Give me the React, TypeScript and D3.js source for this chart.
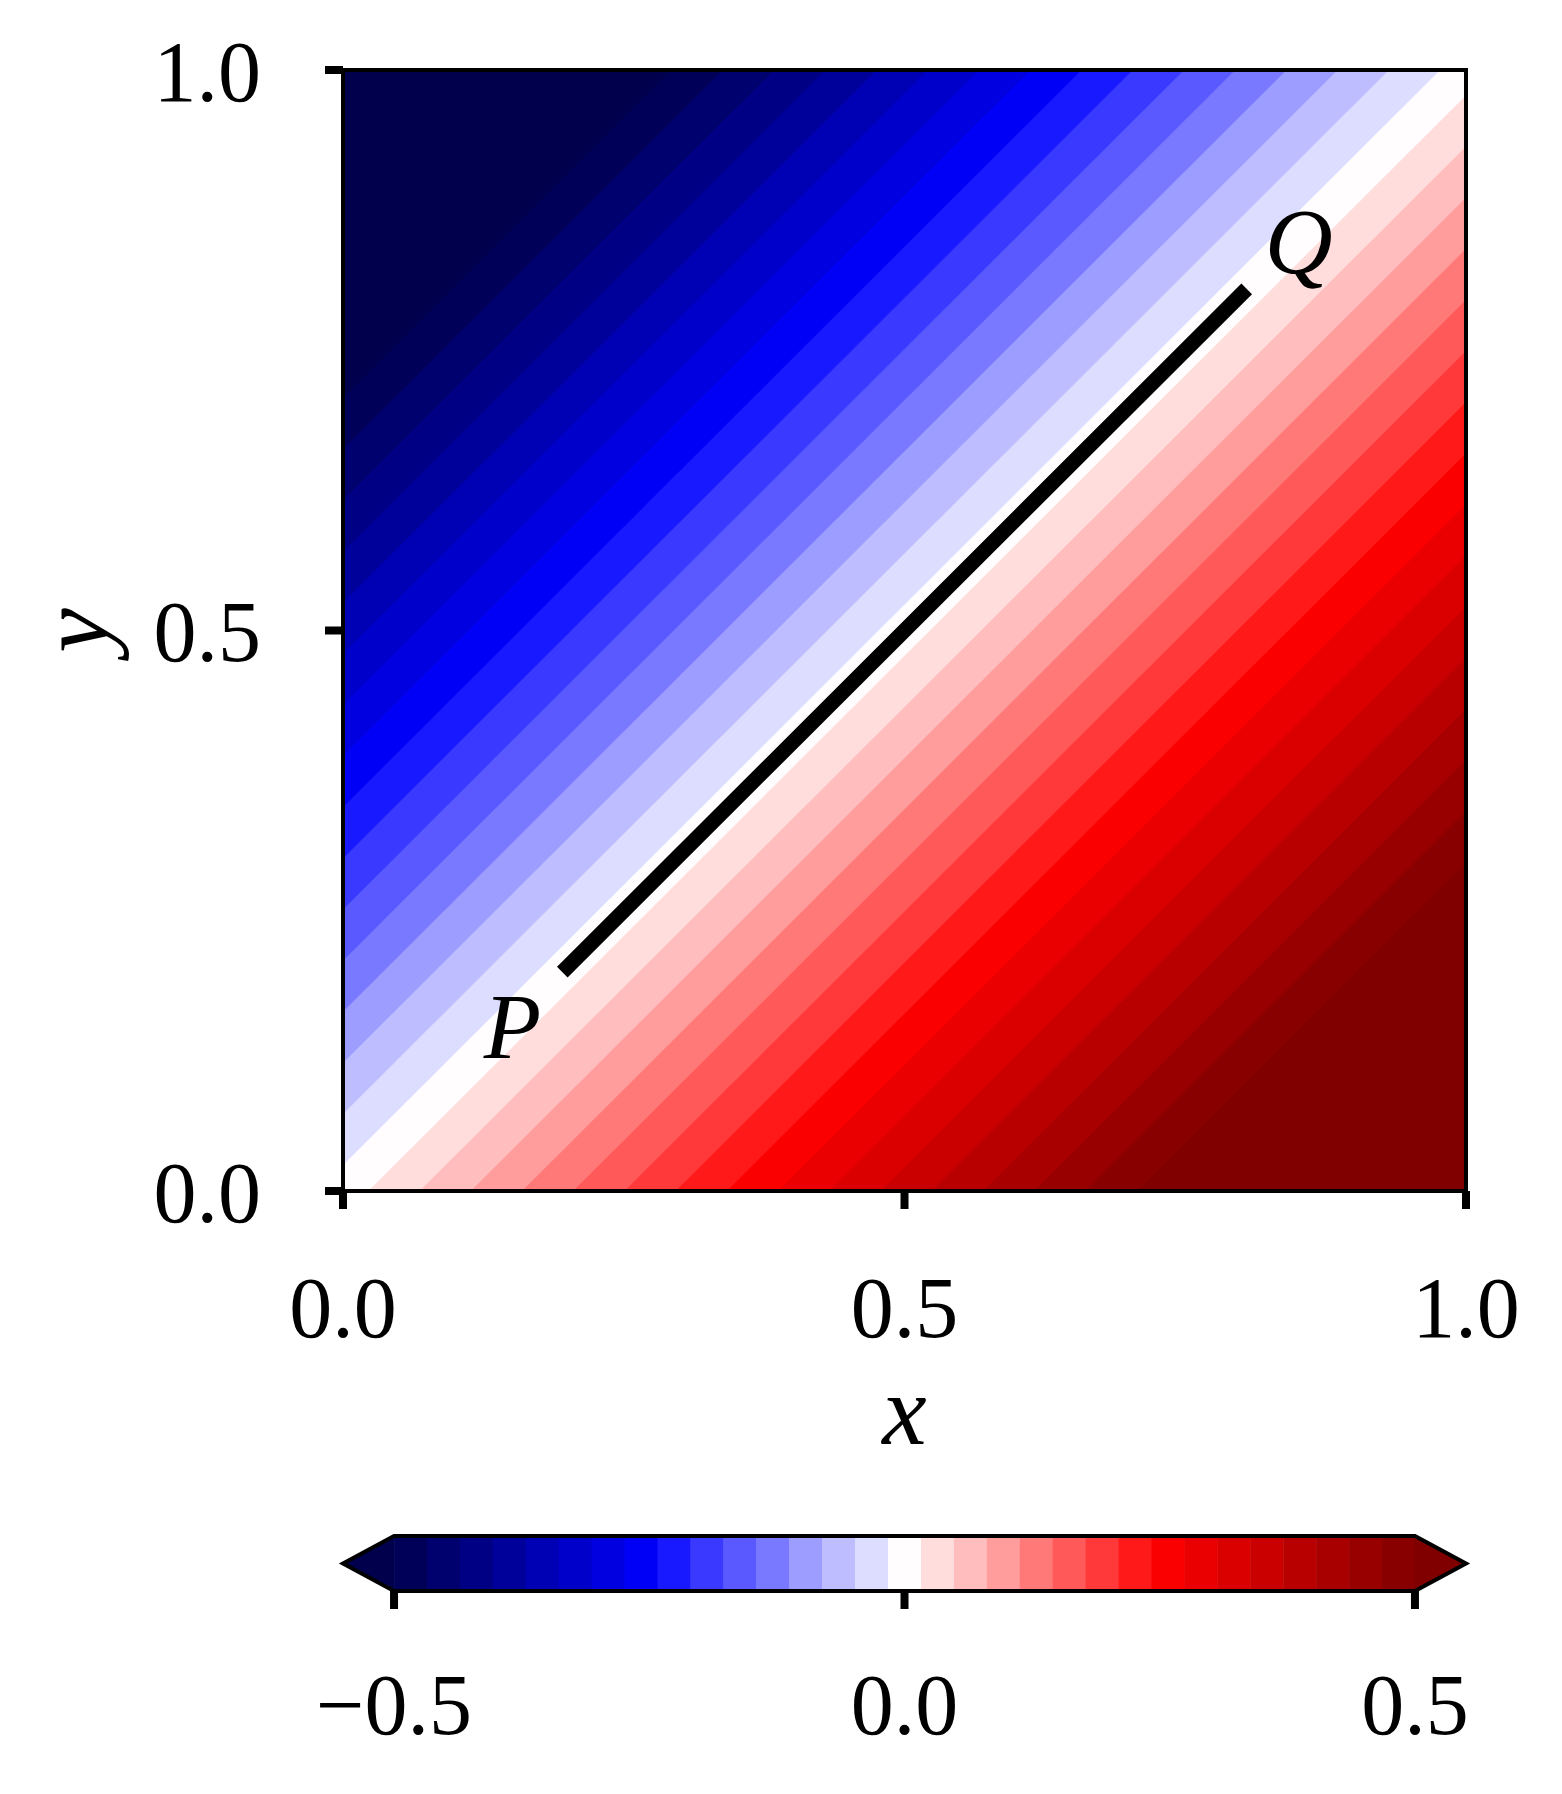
import React, { useMemo } from "react";
import * as d3 from "d3";

// ---- data ----
const xTicks = [0.0, 0.5, 1.0];
const yTicks = [0.0, 0.5, 1.0];
const cbarTicks = [-0.5, 0.0, 0.5];
const levelMin = -0.5;
const levelMax = 0.5;
const levelIntervals = 31;
const levels = d3.range(levelIntervals + 1).map((i) => levelMin + ((levelMax - levelMin) * i) / levelIntervals);
const seismicStops = [0, 0.25, 0.5, 0.75, 1];
const seismicColors = ["rgb(0,0,77)", "rgb(0,0,255)", "rgb(255,255,255)", "rgb(255,0,0)", "rgb(128,0,0)"];
const segmentPQ = [
  { x: 0.2, y: 0.2 },
  { x: 0.8, y: 0.8 },
];
const pointLabels = [
  { text: "P", x: 0.151, y: 0.119 },
  { text: "Q", x: 0.851, y: 0.819 },
];
// signed distance from the line y = x
const field = (x: number, y: number) => (x - y) / Math.SQRT2;
const gridN = 101;

// ---- layout ----
const W = 1562;
const H = 1794;
const plotL = 343;
const plotR = 1466;
const plotT = 70;
const plotB = 1191;
const cbarT = 1536;
const cbarH = 55;
const extFrac = 0.05;

const serif = "'Liberation Serif', 'Times New Roman', serif";

export default function App() {
  const xs = d3.scaleLinear().domain([0, 1]).range([plotL, plotR]);
  const ys = d3.scaleLinear().domain([0, 1]).range([plotB, plotT]);

  const interp = d3.scaleLinear<string>().domain(seismicStops).range(seismicColors).interpolate(d3.interpolateRgb);
  const cmap = (t: number) => {
    if (t < 0) return seismicColors[0];
    if (t > 1) return seismicColors[seismicColors.length - 1];
    const idx = Math.min(255, Math.floor(t * 256));
    return interp(idx / 255);
  };
  const norm = d3.scaleLinear().domain([levelMin, levelMax]).range([0, 1]);
  const bandColor = (k: number) => cmap(norm((levels[k] + levels[k + 1]) / 2));
  const underColor = seismicColors[0];
  const overColor = seismicColors[seismicColors.length - 1];

  const contourPaths = useMemo(() => {
    const values: number[] = new Array(gridN * gridN);
    for (let j = 0; j < gridN; j++) {
      for (let i = 0; i < gridN; i++) {
        values[j * gridN + i] = field(i / (gridN - 1), j / (gridN - 1));
      }
    }
    const cs = d3.contours().size([gridN, gridN]).thresholds(levels)(values);
    const proj = d3.geoTransform({
      point(gx: number, gy: number) {
        (this as any).stream.point(xs((gx - 0.5) / (gridN - 1)), ys((gy - 0.5) / (gridN - 1)));
      },
    });
    const path = d3.geoPath(proj);
    return cs.map((c, k) => ({ d: path(c as any) || "", fill: k < levelIntervals ? bandColor(k) : overColor }));
  }, []);

  // colorbar
  const totalW = plotR - plotL;
  const bodyW = totalW / (1 + 2 * extFrac);
  const bodyL = plotL + bodyW * extFrac;
  const bodyR = bodyL + bodyW;
  const cs = d3.scaleLinear().domain([levelMin, levelMax]).range([bodyL, bodyR]);
  const cMid = cbarT + cbarH / 2;
  const cB = cbarT + cbarH;

  const fmt = (v: number) => {
    const s = Math.abs(v).toFixed(1);
    return v < 0 ? "\u2212" + s : s;
  };

  const tickLen = 18;
  const tickW = 8;
  const spineW = 4;
  const fs = 86;

  return (
    <svg
      width={W}
      height={H}
      viewBox={`0 0 ${W} ${H}`}
      style={{ position: "absolute", left: 0, top: 0, background: "white" }}
    >
      <defs>
        <clipPath id="plotClip">
          <rect x={plotL} y={plotT} width={plotR - plotL} height={plotB - plotT} />
        </clipPath>
      </defs>
      <rect x={0} y={0} width={W} height={H} fill="white" />
      <g clipPath="url(#plotClip)">
        <rect x={plotL} y={plotT} width={plotR - plotL} height={plotB - plotT} fill={underColor} />
        {contourPaths.map((p, k) => (
          <path key={k} d={p.d} fill={p.fill} stroke={p.fill} strokeWidth={0.5} />
        ))}
      </g>
      {/* line P-Q */}
      <line
        x1={xs(segmentPQ[0].x)}
        y1={ys(segmentPQ[0].y)}
        x2={xs(segmentPQ[1].x)}
        y2={ys(segmentPQ[1].y)}
        stroke="black"
        strokeWidth={15}
        strokeLinecap="square"
      />
      {pointLabels.map((l) => (
        <text
          key={l.text}
          x={xs(l.x)}
          y={ys(l.y)}
          textAnchor="middle"
          fontFamily={serif}
          fontStyle="italic"
          fontSize={94}
          fill="black"
        >
          {l.text}
        </text>
      ))}
      {/* spines */}
      <rect
        x={plotL}
        y={plotT}
        width={plotR - plotL}
        height={plotB - plotT}
        fill="none"
        stroke="black"
        strokeWidth={spineW}
      />
      {/* x ticks */}
      {xTicks.map((t) => (
        <g key={"x" + t}>
          <line x1={xs(t)} x2={xs(t)} y1={plotB} y2={plotB + tickLen} stroke="black" strokeWidth={tickW} />
          <text x={xs(t)} y={1337} textAnchor="middle" fontFamily={serif} fontSize={fs} fill="black">
            {fmt(t)}
          </text>
        </g>
      ))}
      {/* y ticks */}
      {yTicks.map((t) => (
        <g key={"y" + t}>
          <line x1={plotL - tickLen} x2={plotL} y1={ys(t)} y2={ys(t)} stroke="black" strokeWidth={tickW} />
          <text x={261} y={ys(t) + fs * 0.36} textAnchor="end" fontFamily={serif} fontSize={fs} fill="black">
            {fmt(t)}
          </text>
        </g>
      ))}
      {/* axis labels */}
      <text x={(plotL + plotR) / 2} y={1444} textAnchor="middle" fontFamily={serif} fontStyle="italic" fontSize={100} fill="black">
        x
      </text>
      <text
        transform={`translate(108, ${(plotT + plotB) / 2}) rotate(-90)`}
        textAnchor="middle"
        fontFamily={serif}
        fontStyle="italic"
        fontSize={100}
        fill="black"
      >
        y
      </text>
      {/* colorbar */}
      {d3.range(levelIntervals).map((k) => (
        <rect
          key={"c" + k}
          x={cs(levels[k])}
          y={cbarT}
          width={cs(levels[k + 1]) - cs(levels[k]) + 0.5}
          height={cbarH}
          fill={bandColor(k)}
        />
      ))}
      <polygon points={`${bodyL},${cbarT} ${plotL},${cMid} ${bodyL},${cB}`} fill={underColor} />
      <polygon points={`${bodyR},${cbarT} ${plotR},${cMid} ${bodyR},${cB}`} fill={overColor} />
      <path
        d={`M${bodyL},${cbarT} L${bodyR},${cbarT} L${plotR},${cMid} L${bodyR},${cB} L${bodyL},${cB} L${plotL},${cMid} Z`}
        fill="none"
        stroke="black"
        strokeWidth={4}
        strokeLinejoin="miter"
      />
      {cbarTicks.map((t) => (
        <g key={"cb" + t}>
          <line x1={cs(t)} x2={cs(t)} y1={cB} y2={cB + tickLen} stroke="black" strokeWidth={tickW} />
          <text x={cs(t)} y={1734} textAnchor="middle" fontFamily={serif} fontSize={fs} fill="black">
            {fmt(t)}
          </text>
        </g>
      ))}
    </svg>
  );
}
